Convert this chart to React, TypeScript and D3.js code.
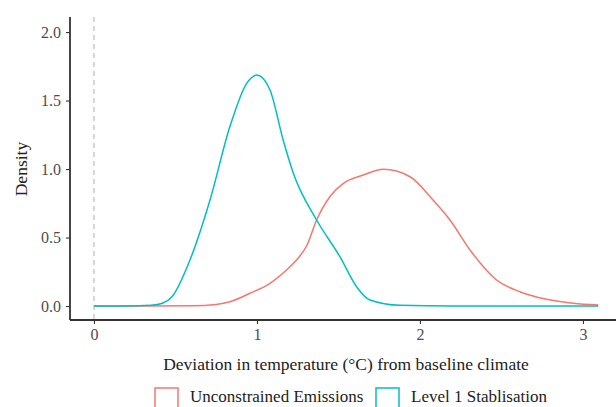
import React, { useEffect, useRef } from "react";
import * as d3 from "d3";

// density curve for "Unconstrained Emissions" (x in °C, y density)
const unconstrainedX = [0, 0.3, 0.6, 0.75, 0.834, 0.957, 1.08, 1.202, 1.26, 1.305, 1.366, 1.448, 1.53, 1.652, 1.775, 1.939, 2.08, 2.184, 2.307, 2.47, 2.613, 2.777, 2.94, 3.094];
const unconstrainedY = [0, 0, 0.002, 0.012, 0.031, 0.093, 0.166, 0.287, 0.36, 0.44, 0.628, 0.8, 0.896, 0.956, 0.998, 0.944, 0.774, 0.628, 0.409, 0.19, 0.104, 0.049, 0.02, 0.007];

// density curve for "Level 1 Stablisation"
const levelOneX = [0, 0.2, 0.35, 0.42, 0.48, 0.589, 0.712, 0.834, 0.937, 1.0, 1.08, 1.161, 1.223, 1.366, 1.509, 1.611, 1.693, 1.877, 2.2, 2.6, 3.094];
const levelOneY = [0, 0, 0.005, 0.02, 0.07, 0.336, 0.774, 1.31, 1.626, 1.686, 1.577, 1.21, 0.97, 0.628, 0.36, 0.141, 0.044, 0.005, 0, 0, 0];

const seriesNames = ["Unconstrained Emissions", "Level 1 Stablisation"];
const seriesColors = ["#F8766D", "#00BFC4"];
const xTicks = [0, 1, 2, 3];
const yTicks = [0, 0.5, 1, 1.5, 2];

const width = 616;
const height = 407;
const margin = { top: 17, right: 0, bottom: 87, left: 70 };
const font = "'Liberation Serif', 'DejaVu Serif', serif";

const App = () => {
  const ref: any = useRef(null);

  useEffect(() => {
    const svg = d3.select(ref.current);
    svg.selectAll("*").remove();

    const plotH = height - margin.top - margin.bottom;

    const xScale = d3.scaleLinear().domain([-0.147, 3.24]).range([margin.left, margin.left + 3.387 * 163]);
    const yScale = d3.scaleLinear().domain([-0.102, 2.11]).range([margin.top + plotH, margin.top]);

    const data = [
      unconstrainedX.map((x, i) => [x, unconstrainedY[i]]),
      levelOneX.map((x, i) => [x, levelOneY[i]]),
    ];

    // zero reference line
    svg
      .append("line")
      .attr("x1", xScale(0))
      .attr("x2", xScale(0))
      .attr("y1", margin.top)
      .attr("y2", margin.top + plotH)
      .attr("stroke", "#c8c8c8")
      .attr("stroke-width", 1.4)
      .attr("stroke-dasharray", "5,4");

    const line = d3
      .line()
      .x((d: any) => xScale(d[0]))
      .y((d: any) => yScale(d[1]))
      .curve(d3.curveMonotoneX);

    // red first, blue on top
    data.forEach((d, i) => {
      svg
        .append("path")
        .datum(d)
        .attr("d", line as any)
        .attr("fill", "none")
        .attr("stroke", seriesColors[i])
        .attr("stroke-width", 1.5);
    });

    // X axis
    const xAxis = d3.axisBottom(xScale).tickValues(xTicks).tickSize(4).tickPadding(5).tickFormat(d3.format("d"));
    const gx = svg
      .append("g")
      .attr("transform", `translate(0, ${margin.top + plotH})`)
      .call(xAxis);
    gx.select(".domain").attr("stroke", "#333").attr("stroke-width", 1.8).attr("d", `M${margin.left},0H${width + 10}`);

    // Y axis
    const yAxis = d3.axisLeft(yScale).tickValues(yTicks).tickSize(4).tickPadding(5).tickFormat(d3.format(".1f"));
    const gy = svg
      .append("g")
      .attr("transform", `translate(${margin.left}, 0)`)
      .call(yAxis);
    gy.select(".domain").attr("stroke", "#333").attr("stroke-width", 1.8).attr("d", `M0,${margin.top}V${margin.top + plotH}`);

    [gx, gy].forEach((g) => {
      g.selectAll(".tick line").attr("stroke", "#333").attr("stroke-width", 1.1);
      g.selectAll(".tick text")
        .attr("fill", "#4d4d4d")
        .style("font-family", font)
        .style("font-size", "16px");
    });

    // axis titles
    svg
      .append("text")
      .attr("x", 346)
      .attr("y", 370)
      .attr("text-anchor", "middle")
      .attr("fill", "#222")
      .style("font-family", font)
      .style("font-size", "17.5px")
      .text("Deviation in temperature (°C) from baseline climate");

    svg
      .append("text")
      .attr("transform", `translate(27, ${yScale(1)}) rotate(-90)`)
      .attr("text-anchor", "middle")
      .attr("fill", "#222")
      .style("font-family", font)
      .style("font-size", "17.5px")
      .text("Density");

    // legend
    const legendX = [155, 376];
    seriesNames.forEach((name, i) => {
      svg
        .append("rect")
        .attr("x", legendX[i])
        .attr("y", 388)
        .attr("width", 23)
        .attr("height", 23)
        .attr("fill", "none")
        .attr("stroke", seriesColors[i])
        .attr("stroke-width", 1.5);
      svg
        .append("text")
        .attr("x", legendX[i] + 35)
        .attr("y", 402)
        .attr("fill", "#222")
        .style("font-family", font)
        .style("font-size", "17px")
        .text(name);
    });
  }, []);

  return (
    <svg
      ref={ref}
      width={width}
      height={height}
      style={{ position: "absolute", left: 0, top: 0, background: "#fff" }}
    ></svg>
  );
};

export default App;
